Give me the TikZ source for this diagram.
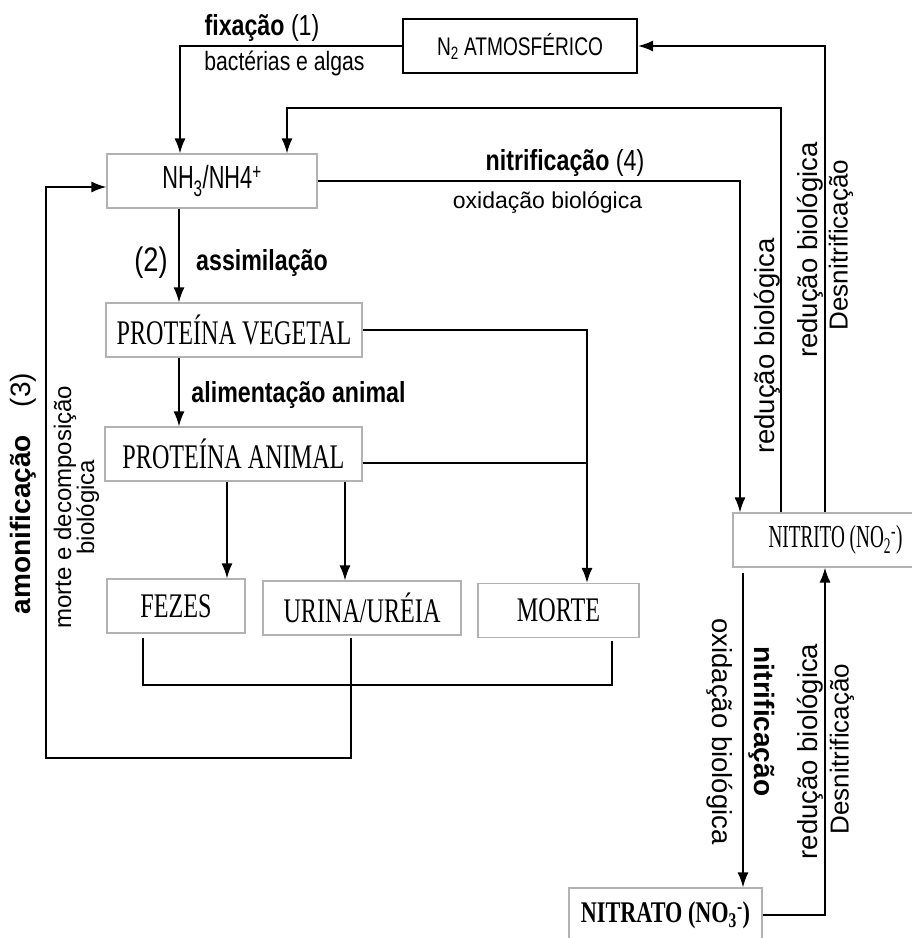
\documentclass[tikz,border=0pt]{standalone}
\usepackage{fontspec}
\setmainfont{Liberation Serif}
\newfontfamily\boxfont[FakeStretch=0.7]{Liberation Serif}
\newfontfamily\nitfont[FakeStretch=0.6]{Liberation Serif}
\newfontfamily\natfont[FakeStretch=0.74]{Liberation Serif}
\newfontfamily\lblfont[FakeStretch=0.8]{Liberation Sans}
\newfontfamily\nhfont[FakeStretch=0.68]{Liberation Sans}
\newfontfamily\narrowfont[FakeStretch=0.75]{Liberation Sans}
\newfontfamily\arialfont{Liberation Sans}
\usetikzlibrary{arrows.meta}

\begin{document}
\begin{tikzpicture}[x=1pt,y=-1pt]
\tikzstyle{box}=[rectangle, draw=gray!60, line width=1.1pt, minimum height=54pt, inner sep=0pt, font=\fontsize{34.5}{36}\boxfont]
\tikzstyle{topbox}=[box, draw=black, line width=2pt, font=\fontsize{25.5}{27}\narrowfont]
\tikzstyle{connect}=[-{Latex[length=15pt,width=11pt]}, line width=1.8pt]
\tikzstyle{wire}=[line width=1.8pt]
\tikzstyle{lbl}=[inner sep=0pt, font=\fontsize{26.5}{28}\lblfont]
\tikzstyle{lbl_big}=[inner sep=0pt, font=\fontsize{29}{31}\lblfont]
\tikzstyle{side_lbl}=[inner sep=0pt, font=\fontsize{27.5}{29}\arialfont]

	\useasboundingbox (0,0) rectangle (912,938);
	\clip (0,0) rectangle (912,938);

	\node[topbox, minimum width=234pt] (n_2) at (520,46) {N\textsubscript{2} ATMOSFÉRICO};
	\node[box, font=\fontsize{32}{34}\nhfont, minimum width=210pt] (nh_3) at (212,181) {NH\textsubscript{3}/NH4\textsuperscript{+}};
	\node[box, minimum width=256pt] (pv) at (234,330) {PROTEÍNA VEGETAL};
	\node[box, minimum width=257pt] (pa) at (233.5,454) {PROTEÍNA ANIMAL};
	\node[box, minimum width=138pt] (fezes) at (176,606) {FEZES};
	\node[box, minimum width=198pt] (urina) at (362,608) {URINA/URÉIA};
	\node[box, minimum width=161pt] (morte) at (558.5,610.5) {MORTE};
	\node[box, font=\fontsize{32}{34}\nitfont, minimum width=205pt] (nitrito) at (835.5,540) {NITRITO (NO\textsubscript{2}\textsuperscript{-})};
	\node[box, font=\fontsize{30}{32}\natfont\bfseries, minimum width=193pt] (nitrato) at (665.5,915) {NITRATO (NO\textsubscript{3}\textsuperscript{-})};

	\coordinate (top_loop) at (287,108);
	\coordinate (collect) at (612,685);
	\coordinate (back) at (46,758);

	\draw[connect] (n_2.west) -| ([xshift=-32]nh_3.north);
	\draw[connect] ([xshift=-10.5]nitrito.north) |- (n_2.east);
	\draw[connect] ([xshift=-54.5]nitrito.north) |- (top_loop) -- ([xshift=75]nh_3.north);
	\draw[connect] (nh_3.east) -| ([xshift=-95.5]nitrito.north);
	\draw[connect] ([xshift=-33]nh_3.south) -- ([xshift=-55]pv.north);
	\draw[connect] ([xshift=-55]pv.south) -- ([xshift=-54.5]pa.north);
	\draw[connect] (pv.east) -| ([xshift=28.5]morte.north);
	\draw[wire] ([yshift=-9]pa.east) -- ++(225,0);
	\draw[connect] ([xshift=-6.5]pa.south) -- ([xshift=51]fezes.north);
	\draw[connect] ([xshift=111.5]pa.south) -- ([xshift=-17]urina.north);
	\draw[wire] ([xshift=-33,yshift=-4]fezes.south) |- (collect) -- ([xshift=53.5,yshift=-3]morte.south);
	\draw[connect] ([xshift=-11,yshift=-2]urina.south) |- (back) |- ([yshift=-6]nh_3.west);
	\draw[connect] ([xshift=-92.5,yshift=-5]nitrito.south) -- ([xshift=77.5]nitrato.north);
	\draw[connect] (nitrato.east) -| ([xshift=-10.5]nitrito.south);

	\node[lbl_big] (fix_lbl) at (262,28) {\textbf{fixação} (1)};
	\node[lbl] (bact_lbl) at (284.5,63) {bactérias e algas};
	\node[lbl_big] (nitr_lbl) at (565,163) {\textbf{nitrificação} (4)};
	\node[inner sep=0pt, font=\fontsize{23}{25}\arialfont] (oxid_lbl) at (547.5,202) {oxidação biológica};
	\node[lbl_big, font=\fontsize{34}{36}\lblfont] (two_lbl) at (151,263) {(2)};
	\node[lbl_big] (assim_lbl) at (262,263) {\textbf{assimilação}};
	\node[lbl_big] (alim_lbl) at (298.5,395) {\textbf{alimentação animal}};
	\node[side_lbl, rotate=90, font=\fontsize{28}{30}\arialfont] (amon_lbl) at (23,493.5) {\textbf{amonificação}\quad(3)};
	\node[side_lbl, rotate=90, align=center, font=\fontsize{24}{23}\arialfont] (decomp_lbl) at (76.5,507) {morte e decomposição\\biológica};
	\node[side_lbl, rotate=90] (red_1) at (767,346) {redução biológica};
	\node[side_lbl, rotate=90] (red_2) at (810,250) {redução biológica};
	\node[side_lbl, rotate=90, font=\fontsize{26}{28}\arialfont] (desn_1) at (841,245) {Desnitrificação};
	\node[side_lbl, rotate=-90] (oxid_2) at (720,731.5) {oxidação biológica};
	\node[side_lbl, rotate=-90, font=\fontsize{28}{30}\arialfont\bfseries] (nitr_2) at (762,721.5) {nitrificação};
	\node[side_lbl, rotate=90] (red_3) at (810,751.5) {redução biológica};
	\node[side_lbl, rotate=90, font=\fontsize{26}{28}\arialfont] (desn_2) at (842,749) {Desnitrificação};

\end{tikzpicture}
\end{document}
